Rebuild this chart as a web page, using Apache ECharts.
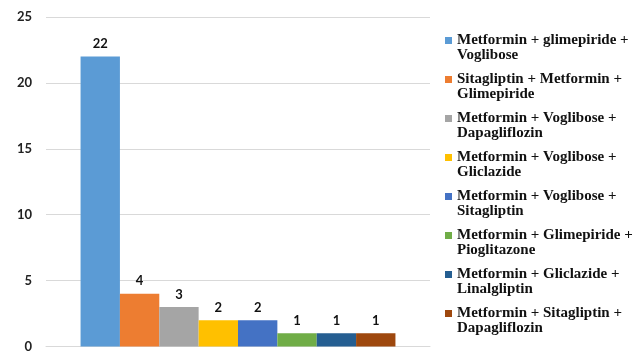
<!DOCTYPE html>
<html>
<head>
<meta charset="utf-8">
<script src="https://cdn.jsdelivr.net/npm/echarts@6/dist/echarts.min.js"></script>
<style>html,body{margin:0;padding:0;background:#fff}#c{width:636px;height:353px}</style>
</head>
<body>
<div id="c"></div>
<script>
const categories = [''];
const seriesNames = [
  'Metformin + glimepiride + Voglibose',
  'Sitagliptin + Metformin + Glimepiride',
  'Metformin + Voglibose + Dapagliflozin',
  'Metformin + Voglibose + Gliclazide',
  'Metformin + Voglibose + Sitagliptin',
  'Metformin + Glimepiride + Pioglitazone',
  'Metformin + Gliclazide + Linalgliptin',
  'Metformin + Sitagliptin + Dapagliflozin'
];
const seriesValues = [22, 4, 3, 2, 2, 1, 1, 1];
const seriesColors = ['#5B9BD5', '#ED7D31', '#A5A5A5', '#FFC000', '#4472C4', '#70AD47', '#255E91', '#9E480E'];
const yTicks = [0, 5, 10, 15, 20, 25];

const chart = echarts.init(document.getElementById('c'), null, {renderer: 'canvas'});
chart.setOption({
  animation: false,
  backgroundColor: '#fff',
  grid: {left: 46, right: 206, top: 17, bottom: 2, containLabel: false},
  legend: {
    orient: 'vertical',
    left: 445,
    top: 18,
    padding: 0,
    itemWidth: 7,
    itemHeight: 7,
    itemGap: -6,
    icon: 'rect',
    data: seriesNames,
    formatter: function (n) { return '\n' + n.replace(/ \+ (?!.*\+)/, ' +\n'); },
    textStyle: {
      fontFamily: 'Liberation Serif',
      fontWeight: 'bold',
      fontSize: 15,
      lineHeight: 15,
      color: '#111'
    }
  },
  xAxis: {
    type: 'category',
    data: categories,
    axisLine: {show: true, lineStyle: {color: '#d9d9d9'}},
    axisTick: {show: false},
    axisLabel: {show: false}
  },
  yAxis: {
    type: 'value',
    min: yTicks[0],
    max: yTicks[yTicks.length - 1],
    interval: 5,
    axisLine: {show: false},
    axisTick: {show: false},
    splitLine: {lineStyle: {color: '#d9d9d9', width: 1}},
    axisLabel: {
      margin: 14,
      fontFamily: 'Lato',
      fontWeight: 'bold',
      fontSize: 13,
      color: '#222'
    }
  },
  series: seriesNames.map(function (name, i) {
    return {
      name: name,
      type: 'bar',
      data: [seriesValues[i]],
      barGap: '0%',
      barCategoryGap: '18%',
      itemStyle: {color: seriesColors[i]},
      label: {
        show: true,
        position: 'top',
        distance: 6,
        fontFamily: 'Lato',
        fontWeight: 'bold',
        fontSize: 13,
        color: '#111'
      }
    };
  })
});
</script>
</body>
</html>
